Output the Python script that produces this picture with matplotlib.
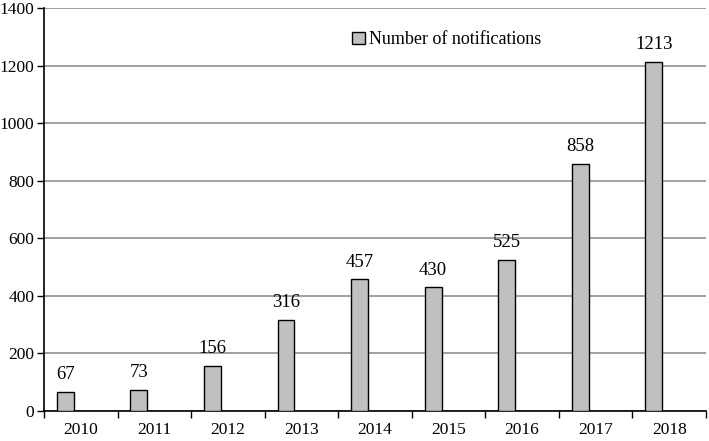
import matplotlib
matplotlib.use("Agg")
import matplotlib.pyplot as plt
import numpy as np

years = ["2010", "2011", "2012", "2013", "2014", "2015", "2016", "2017", "2018"]
notifications = [67, 73, 156, 316, 457, 430, 525, 858, 1213]
y_ticks = [0, 200, 400, 600, 800, 1000, 1200, 1400]

plt.rcParams['font.family'] = ['Liberation Serif', 'DejaVu Serif']

fig = plt.figure(figsize=(7.09, 4.41), dpi=100)
ax = fig.add_axes([44/709, 30/441, 662/709, 403/441])

x = np.arange(len(years))
offset = -0.21
bars = ax.bar(x + offset, notifications, width=0.23, color="#c0c0c0",
              edgecolor="black", linewidth=1.0, label="Number of notifications", zorder=3)
for xi, v in zip(x, notifications):
    ax.text(xi + offset, v + 30, str(v), ha="center", va="bottom", fontsize=13.5)

ax.set_xlim(-0.5, len(years) - 0.5)
ax.set_ylim(0, 1400)
ax.set_yticks(y_ticks)
ax.set_yticklabels([str(t) for t in y_ticks], fontsize=12.5)
ax.yaxis.grid(True, color="#a0a0a0", linewidth=1.4, zorder=0)
ax.set_axisbelow(True)

ax.set_xticks(x)
ax.set_xticklabels(years, fontsize=12.5)
ax.tick_params(axis="x", which="major", length=0, pad=8)
ax.set_xticks(np.arange(-0.5, len(years), 1.0), minor=True)
ax.tick_params(axis="x", which="minor", length=5, width=1, direction="out")
ax.tick_params(axis="y", length=5, width=1, direction="out", pad=2)

for s in ["top", "right"]:
    ax.spines[s].set_visible(False)
for s in ["left", "bottom"]:
    ax.spines[s].set_linewidth(1.2)
    ax.spines[s].set_color("black")

leg = ax.legend(loc="upper left", bbox_to_anchor=(0.455, 0.96), frameon=False,
                fontsize=13, handlelength=0.7, handleheight=0.7, handletextpad=0.2,
                borderaxespad=0)

fig.savefig("out.png", dpi=100)
